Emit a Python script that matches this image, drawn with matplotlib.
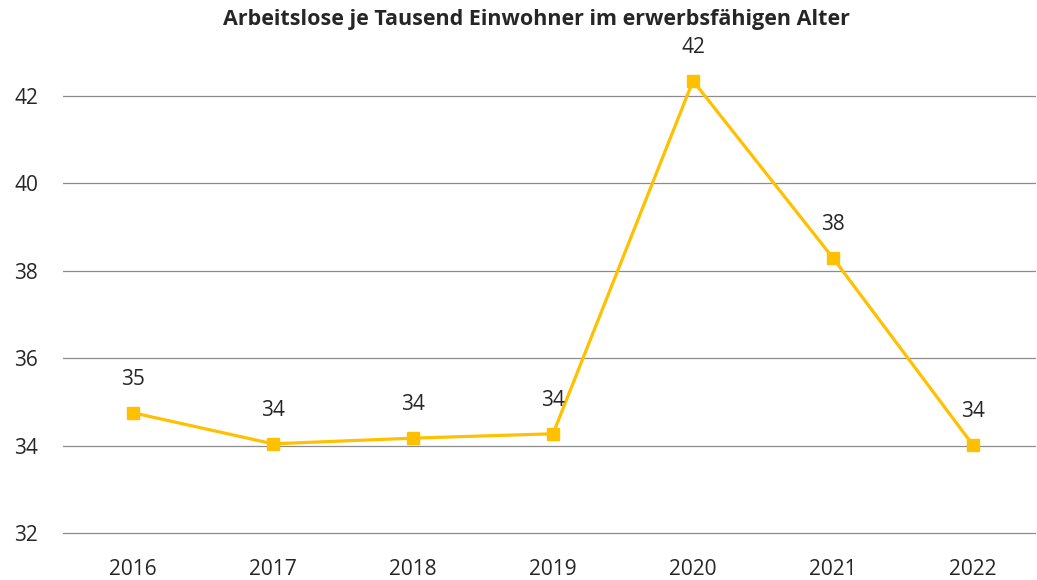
import matplotlib
matplotlib.use("Agg")
import matplotlib.pyplot as plt

# data
years = ["2016", "2017", "2018", "2019", "2020", "2021", "2022"]
values = [34.75, 34.04, 34.17, 34.27, 42.34, 38.29, 34.01]
yticks = [32, 34, 36, 38, 40, 42]
title = "Arbeitslose je Tausend Einwohner im erwerbsfähigen Alter"

COLOR = "#FFC000"
TXT = "#262626"
plt.rcParams["font.family"] = ["Open Sans", "DejaVu Sans"]

fig = plt.figure(figsize=(10.37, 5.8), dpi=100)
# 32 at y=533px, 43 at y=52px; small margin below so 32 gridline shows
ax = fig.add_axes([63 / 1037, 45 / 580, (1036 - 63) / 1037, (535 - 52) / 580])

x = list(range(len(years)))
ax.plot(x, values, color=COLOR, lw=2.3, marker="s", markersize=8.5, zorder=3)

# value labels
for xi, v in zip(x, values):
    ax.annotate(f"{round(v)}", (xi, v), xytext=(0, 24), textcoords="offset points",
                ha="center", va="center", fontsize=15, color=TXT)

ax.set_xlim(-0.5, 6.45)
ax.set_ylim(31.955, 43)
ax.set_xticks(x)
ax.set_xticklabels(years)
ax.set_yticks(yticks)
ax.tick_params(length=0, labelsize=15, labelcolor=TXT)
ax.tick_params(axis="y", pad=18)
ax.tick_params(axis="x", pad=17)
ax.grid(axis="y", color="#8c8c8c", lw=0.9)
ax.set_axisbelow(True)
for s in ax.spines.values():
    s.set_visible(False)

fig.text(536 / 1037, 1 - 19 / 580, title, ha="center", va="center",
         fontsize=15.5, fontweight="bold", color=TXT)

fig.savefig("out.png", dpi=100)
